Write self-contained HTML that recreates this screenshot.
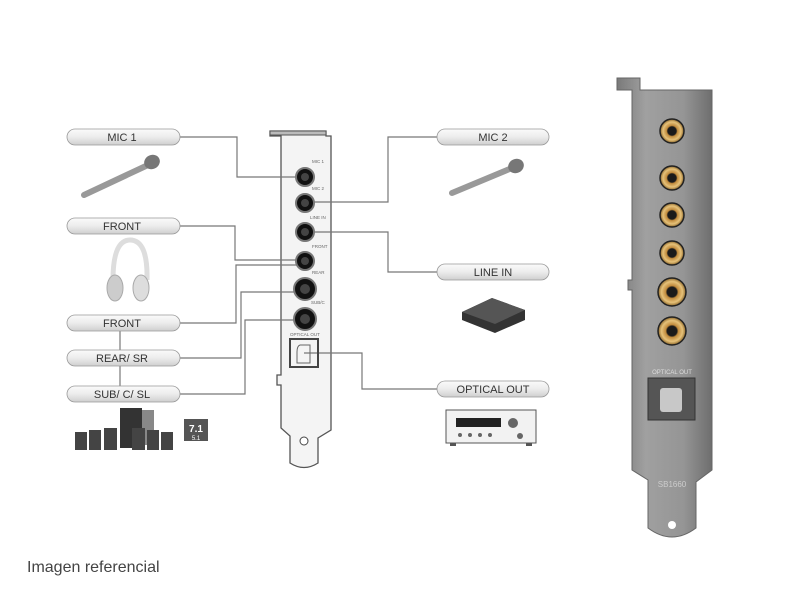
<!DOCTYPE html>
<html><head><style>
html,body{margin:0;padding:0;background:#fff;width:800px;height:600px;overflow:hidden}
svg{display:block}
text{font-family:"Liberation Sans",sans-serif}
</style></head><body>
<svg width="800" height="600" viewBox="0 0 800 600">
<defs>
<linearGradient id="pill" x1="0" y1="0" x2="0" y2="1">
<stop offset="0" stop-color="#fbfbfb"/><stop offset="0.5" stop-color="#ececec"/><stop offset="1" stop-color="#cfcfcf"/></linearGradient>
<linearGradient id="metal" x1="0" y1="0" x2="1" y2="0">
<stop offset="0" stop-color="#7a7a7a"/><stop offset="0.3" stop-color="#a0a0a0"/><stop offset="0.7" stop-color="#959595"/><stop offset="1" stop-color="#6e6e6e"/></linearGradient>
<radialGradient id="gold"><stop offset="0.35" stop-color="#1a1a1a"/><stop offset="0.45" stop-color="#c08a3c"/><stop offset="0.75" stop-color="#e6c27a"/><stop offset="1" stop-color="#8a6428"/></radialGradient>
</defs>

<!-- left bracket -->
<path d="M270 131 H326 V136 H331 V430 L318 438 V463 Q304 472 290 463 V436 L281 428 V385 H277 V375 H281 V136 H270 Z" fill="#f4f4f4" stroke="#555" stroke-width="1.3"/>
<rect x="270" y="131" width="56" height="4" fill="#bbb" stroke="#555" stroke-width="1"/>
<circle cx="304" cy="441" r="4" fill="#fff" stroke="#444"/>

<!-- connectors -->
<g fill="none" stroke="#777" stroke-width="1.2">
<path d="M180 137 H237 V177 H305"/>
<path d="M180 226 H235 V260 H305"/>
<path d="M180 323 H236 V265 H305"/>
<path d="M180 358 H241 V292 H305"/>
<path d="M180 394 H245 V320 H305"/>
<path d="M120 331 V386"/>
<path d="M305 202 H388 V137 H437"/>
<path d="M305 232 H388 V272 H437"/>
<path d="M304 353 H362 V389 H437"/>
</g>

<g stroke="#777" stroke-width="2" fill="#111">
<circle cx="305" cy="177" r="9"/><circle cx="305" cy="203" r="9"/><circle cx="305" cy="232" r="9"/>
<circle cx="305" cy="261" r="9"/><circle cx="305" cy="289" r="11"/><circle cx="305" cy="319" r="11"/>
</g>
<g fill="#444"><circle cx="305" cy="177" r="4"/><circle cx="305" cy="203" r="4"/><circle cx="305" cy="232" r="4"/><circle cx="305" cy="261" r="4"/><circle cx="305" cy="289" r="5"/><circle cx="305" cy="319" r="5"/></g>
<rect x="290" y="339" width="28" height="28" fill="none" stroke="#444" stroke-width="2"/>
<path d="M300 345 H310 V363 H297 V352 Q297 346 300 345Z" fill="none" stroke="#666"/>
<g font-size="4.5" fill="#666"><text x="312" y="163">MIC 1</text><text x="312" y="190">MIC 2</text><text x="310" y="219">LINE IN</text><text x="312" y="248">FRONT</text><text x="312" y="274">REAR</text><text x="311" y="304">SUB/C</text><text x="290" y="336">OPTICAL OUT</text></g>

<!-- pills -->
<g stroke="#999" stroke-width="0.8">
<rect x="67" y="129" width="113" height="16" rx="8" fill="url(#pill)"/>
<rect x="67" y="218" width="113" height="16" rx="8" fill="url(#pill)"/>
<rect x="67" y="315" width="113" height="16" rx="8" fill="url(#pill)"/>
<rect x="67" y="350" width="113" height="16" rx="8" fill="url(#pill)"/>
<rect x="67" y="386" width="113" height="16" rx="8" fill="url(#pill)"/>
<rect x="437" y="129" width="112" height="16" rx="8" fill="url(#pill)"/>
<rect x="437" y="264" width="112" height="16" rx="8" fill="url(#pill)"/>
<rect x="437" y="381" width="112" height="16" rx="8" fill="url(#pill)"/>
</g>
<g font-size="11" fill="#333" text-anchor="middle">
<text x="122" y="141">MIC 1</text><text x="122" y="230">FRONT</text><text x="122" y="327">FRONT</text>
<text x="122" y="362">REAR/ SR</text><text x="122" y="398">SUB/ C/ SL</text>
<text x="493" y="141">MIC 2</text><text x="493" y="276">LINE IN</text><text x="493" y="393">OPTICAL OUT</text>
</g>

<!-- mic 1 -->
<line x1="84" y1="195" x2="148" y2="165" stroke="#999" stroke-width="6" stroke-linecap="round"/>
<ellipse cx="152" cy="162" rx="8" ry="7" fill="#777" transform="rotate(-25 152 162)"/>
<!-- mic 2 -->
<line x1="452" y1="193" x2="512" y2="168" stroke="#999" stroke-width="6" stroke-linecap="round"/>
<ellipse cx="516" cy="166" rx="8" ry="7" fill="#777" transform="rotate(-25 516 166)"/>
<!-- headphones -->
<path d="M113 280 Q113 240 130 240 Q148 240 147 280" fill="none" stroke="#ddd" stroke-width="5"/>
<ellipse cx="115" cy="288" rx="8" ry="13" fill="#ccc" stroke="#aaa"/>
<ellipse cx="141" cy="288" rx="8" ry="13" fill="#ddd" stroke="#aaa"/>
<!-- speakers -->
<rect x="120" y="408" width="22" height="40" fill="#333"/>
<rect x="142" y="410" width="12" height="35" fill="#888"/>
<g fill="#444"><rect x="75" y="432" width="12" height="18"/><rect x="89" y="430" width="12" height="20"/><rect x="104" y="428" width="13" height="22"/><rect x="132" y="428" width="13" height="22"/><rect x="147" y="430" width="12" height="20"/><rect x="161" y="432" width="12" height="18"/></g>
<rect x="184" y="419" width="24" height="22" fill="#555"/>
<text x="196" y="432" font-size="10" font-weight="bold" fill="#fff" text-anchor="middle">7.1</text>
<text x="196" y="440" font-size="6" fill="#fff" text-anchor="middle">5.1</text>
<!-- line in box -->
<path d="M462 312 L492 298 L525 310 L525 320 L495 333 L462 320Z" fill="#333"/>
<path d="M462 312 L492 298 L525 310 L495 324Z" fill="#555"/>
<!-- receiver -->
<rect x="446" y="410" width="90" height="33" fill="#f2f2f2" stroke="#555"/>
<rect x="456" y="418" width="45" height="9" fill="#222"/>
<g fill="#666"><circle cx="513" cy="423" r="5"/><circle cx="460" cy="435" r="2"/><circle cx="470" cy="435" r="2"/><circle cx="480" cy="435" r="2"/><circle cx="490" cy="435" r="2"/><circle cx="520" cy="436" r="3"/></g>
<rect x="450" y="443" width="6" height="3" fill="#555"/><rect x="526" y="443" width="6" height="3" fill="#555"/>

<!-- right bracket -->
<path d="M617 78 H640 V90 H712 V470 L696 482 V528 Q672 546 648 528 V480 L632 470 V290 H628 V280 H632 V90 H617Z" fill="url(#metal)" stroke="#666"/>
<circle cx="672" cy="525" r="4" fill="#fff"/>
<g fill="url(#gold)" stroke="#222" stroke-width="1.5">
<circle cx="672" cy="131" r="12"/><circle cx="672" cy="178" r="12"/><circle cx="672" cy="215" r="12"/>
<circle cx="672" cy="253" r="12"/><circle cx="672" cy="292" r="14"/><circle cx="672" cy="331" r="14"/>
</g>
<rect x="648" y="378" width="47" height="42" fill="#555" stroke="#333"/>
<rect x="660" y="388" width="22" height="24" rx="3" fill="#c8c8c8"/>
<text x="672" y="374" font-size="6" fill="#ddd" text-anchor="middle">OPTICAL OUT</text>
<text x="672" y="487" font-size="8" fill="#ccc" text-anchor="middle">SB1660</text>

<text x="27" y="572" font-size="16" fill="#444">Imagen referencial</text>
</svg>
</body></html>
